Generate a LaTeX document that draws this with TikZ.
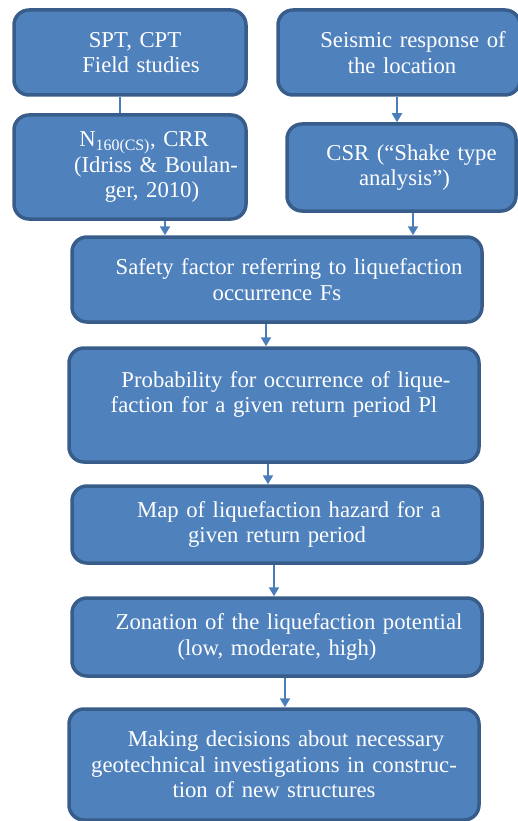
\documentclass[tikz,border=0pt]{standalone}
\usepackage{fontspec}
\setmainfont{Liberation Serif}
\usetikzlibrary{arrows.meta}

\definecolor{boxfill}{HTML}{4F81BD}
\definecolor{boxline}{HTML}{385D8A}
\definecolor{flowline}{HTML}{4A7EBB}
\newcommand{\ind}{\hspace*{24pt}}

\tikzset{every picture/.style={line width=0.75pt}}
\tikzset{
  stagebox/.style={draw=boxline, fill=boxfill, line width=3.5pt, rounded corners=15pt,
    inner sep=0pt, text=white, align=center, text width=#1,
    font=\fontsize{22.7}{25.5}\selectfont},
  flow/.style={draw=flowline, line width=2pt, -{Triangle[length=9pt,width=10pt]}},
  plain/.style={draw=flowline, line width=2pt}
}

\begin{document}
\begin{tikzpicture}[x=1pt,y=1pt,yscale=-1,xscale=1]
\useasboundingbox (0,0) rectangle (517,821); %set diagram to the page size

%Shape: Rounded Rect [id:sptcpt]
\node [stagebox=228pt, minimum width=232pt, minimum height=85pt] (sptcpt) at (130,52.5)
  {\hspace*{10pt}SPT, CPT\\ \hspace*{22pt}Field studies};
%Shape: Rounded Rect [id:seismic]
\node [stagebox=236pt, minimum width=242pt, minimum height=85pt] (seismic) at (399,52.5)
  {\hspace*{28pt}Seismic response of\\ \hspace*{6pt}the location};
%Shape: Rounded Rect [id:ncrr]
\node [stagebox=228pt, minimum width=232pt, minimum height=104pt] (ncrr) at (130,167)
  {\hspace*{28pt}N\textsubscript{160(CS)}, CRR\\ \hspace*{52pt}(Idriss \& Boulan-\\ \hspace*{44pt}ger, 2010)};
%Shape: Rounded Rect [id:csr]
\node [stagebox=225pt, minimum width=229pt, minimum height=87pt] (csr) at (401.5,167.5)
  {\hspace*{20pt}CSR (“Shake type\\ \hspace*{6pt}analysis”)};
%Shape: Rounded Rect [id:safety]
\node [stagebox=400pt, minimum width=410pt, minimum height=85pt] (safety) at (277,279.5)
  {\ind Safety factor referring to liquefaction\\ occurrence Fs};
%Shape: Rounded Rect [id:prob]
\node [stagebox=400pt, minimum width=410pt, minimum height=114pt] (prob) at (274,405)
  {\ind Probability for occurrence of lique-\\ faction for a given return period Pl\\ \mbox{}};
%Shape: Rounded Rect [id:hazmap]
\node [stagebox=400pt, minimum width=410pt, minimum height=77pt] (hazmap) at (277,524.5)
  {\ind Map of liquefaction hazard for a\\ given return period};
%Shape: Rounded Rect [id:zonation]
\node [stagebox=400pt, minimum width=410pt, minimum height=78pt] (zonation) at (277,637)
  {\ind Zonation of the liquefaction potential\\ (low, moderate, high)};
%Shape: Rounded Rect [id:decide]
\node [stagebox=400pt, minimum width=410pt, minimum height=111pt] (decide) at (274,764.5)
  {\ind Making decisions about necessary\\ geotechnical investigations in construc-\\ tion of new structures};

%Straight Lines
\draw [plain] ([xshift=-10pt]sptcpt.south) -- ([xshift=-10pt]sptcpt.south |- ncrr.north) ;
\draw [flow] ([xshift=-2pt]seismic.south) -- ([xshift=-2pt]seismic.south |- csr.north) ;
\draw [flow] ([xshift=35pt]ncrr.south) -- ([xshift=35pt]ncrr.south |- safety.north) ;
\draw [flow] ([xshift=11.5pt]csr.south) -- ([xshift=11.5pt]csr.south |- safety.north) ;
\draw [flow] ([xshift=-11pt]safety.south) -- ([xshift=-11pt]safety.south |- prob.north) ;
\draw [flow] ([xshift=-6pt]prob.south) -- ([xshift=-6pt]prob.south |- hazmap.north) ;
\draw [flow] ([xshift=-3pt]hazmap.south) -- ([xshift=-3pt]hazmap.south |- zonation.north) ;
\draw [flow] ([xshift=8pt]zonation.south) -- ([xshift=8pt]zonation.south |- decide.north) ;

\end{tikzpicture}
\end{document}
